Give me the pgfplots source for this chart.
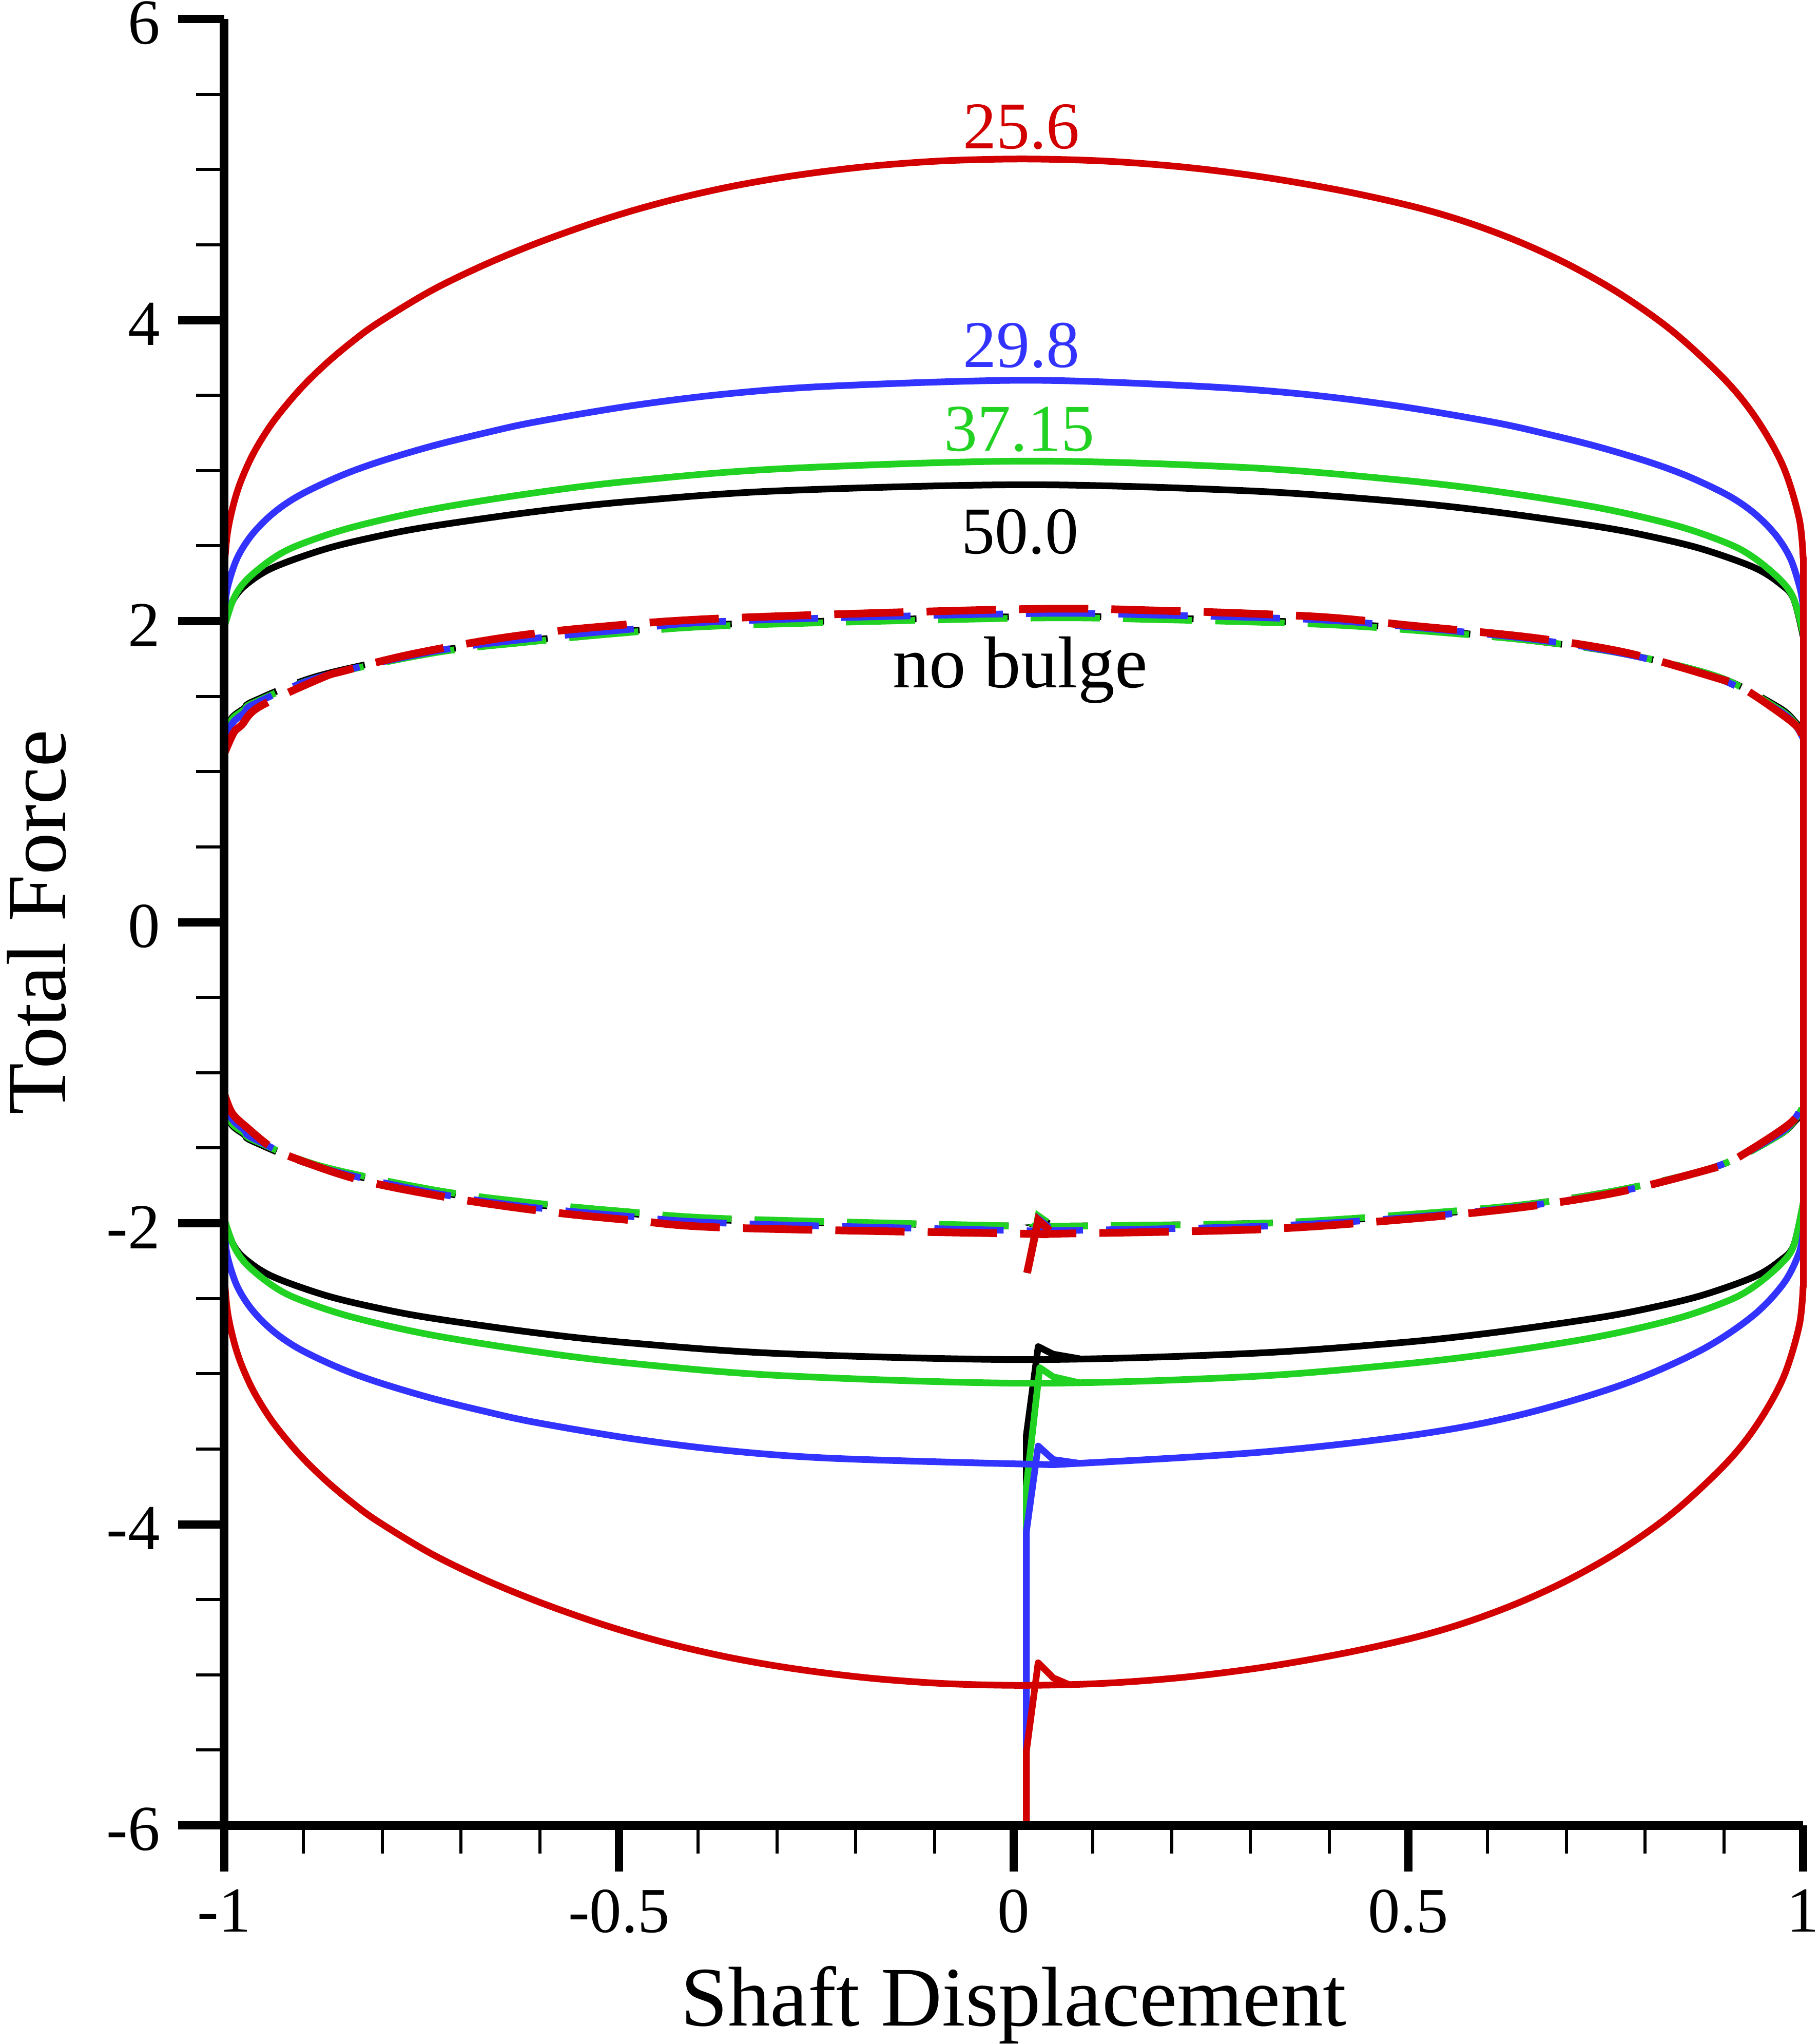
\documentclass[border=0pt]{standalone}
\usepackage{fontspec}
\setmainfont{Liberation Serif}
\usepackage{pgfplots}
\pgfplotsset{compat=1.18}
\definecolor{cred}{RGB}{210,0,0}
\definecolor{cblue}{RGB}{51,51,255}
\definecolor{cgreen}{RGB}{34,210,34}
\begin{document}
\begin{tikzpicture}
\pgfplotsset{
 every axis x label/.style={at={(axis description cs:0.5,0)}, yshift=-39pt, anchor=base, font=\fontsize{16.5}{20}\selectfont},
 every axis y label/.style={at={(axis description cs:0,0.5)}, xshift=-30.9pt, rotate=90, anchor=base, font=\fontsize{16.4}{20}\selectfont},
 sol/.style={line width=1.3pt, line join=round, line cap=round},
 solsm/.style={sol, smooth, tension=0.55},
 das/.style={line width=1.3pt, dash pattern=on 13.5pt off 4.5pt},
 dassm/.style={das, smooth, tension=0.55},
}
\begin{axis}[
 scale only axis, width=307.6pt, height=351.9pt,
 xmin=-1,xmax=1,ymin=-6,ymax=6,
 axis x line*=bottom, axis y line*=left,
 axis on top, clip=false,
 axis line style={line width=1.7pt, black},
 tick align=outside,
 major tick length=9pt, minor tick length=5.5pt,
 every major tick/.append style={line width=1.6pt, black},
 every minor tick/.append style={line width=0.6pt, black},
 xtick={-1,-0.5,0,0.5,1}, xticklabels={-1,-0.5,0,0.5,1},
 ytick={-6,-4,-2,0,2,4,6}, yticklabels={-6,-4,-2,0,2,4,6},
 minor x tick num=4, minor y tick num=3,
 tick label style={font=\fontsize{12.5}{15}\selectfont, black},
 yticklabel style={yshift=-0.8pt},
 xlabel={Shaft Displacement}, ylabel={Total Force},
]
% ================= dashed: no bulge =================
% black
\addplot[dassm, black] coordinates {(-1,1.26) (-0.99,1.36) (-0.975,1.42) (-0.962,1.47) (-0.878,1.64) (-0.733,1.80) (-0.617,1.87) (-0.497,1.93) (-0.361,1.98) (0.016,2.03) (0.183,2.02) (0.382,1.99) (0.504,1.95) (0.657,1.87) (0.776,1.78) (0.892,1.63) (0.968,1.43) (0.99,1.33) (1,1.26)};
\addplot[dassm, black] coordinates {(-1,-1.25) (-0.99,-1.35) (-0.975,-1.41) (-0.962,-1.46) (-0.878,-1.63) (-0.733,-1.79) (-0.617,-1.87) (-0.497,-1.93) (-0.361,-1.98) (0.016,-2.02) (0.05,-2.02) (0.315,-2.00) (0.504,-1.95) (0.657,-1.87) (0.776,-1.77) (0.892,-1.62) (0.968,-1.42) (0.99,-1.32) (1,-1.26)};
\addplot[das, black] coordinates {(1,-1.26) (1,1.26)};
\addplot[das, black] coordinates {(0.017,-2.33) (0.031,-1.96) (0.05,-2.02)};
% green
\addplot[dassm, cgreen] coordinates {(-1,1.24) (-0.99,1.35) (-0.975,1.41) (-0.962,1.46) (-0.878,1.63) (-0.733,1.79) (-0.617,1.86) (-0.497,1.92) (-0.361,1.97) (0.016,2.02) (0.183,2.01) (0.382,1.98) (0.504,1.94) (0.657,1.87) (0.776,1.78) (0.892,1.63) (0.968,1.42) (0.99,1.32) (1,1.24)};
\addplot[dassm, cgreen] coordinates {(-1,-1.24) (-0.99,-1.34) (-0.975,-1.40) (-0.962,-1.45) (-0.878,-1.62) (-0.733,-1.78) (-0.617,-1.86) (-0.497,-1.92) (-0.361,-1.97) (0.016,-2.02) (0.05,-2.02) (0.315,-2.00) (0.504,-1.94) (0.657,-1.87) (0.776,-1.77) (0.892,-1.62) (0.968,-1.42) (0.99,-1.31) (1,-1.22)};
\addplot[das, cgreen] coordinates {(0.017,-2.33) (0.031,-1.95) (0.05,-2.02)};
% blue
\addplot[dassm, cblue] coordinates {(-1,1.20) (-0.99,1.32) (-0.975,1.39) (-0.962,1.45) (-0.878,1.63) (-0.733,1.80) (-0.617,1.88) (-0.497,1.94) (-0.361,2.00) (0.016,2.05) (0.183,2.04) (0.382,2.01) (0.504,1.96) (0.657,1.88) (0.776,1.78) (0.892,1.62) (0.968,1.41) (0.99,1.31) (1,1.22)};
\addplot[dassm, cblue] coordinates {(-1,-1.20) (-0.99,-1.31) (-0.975,-1.38) (-0.962,-1.44) (-0.878,-1.63) (-0.733,-1.80) (-0.617,-1.89) (-0.497,-1.95) (-0.361,-2.00) (0.016,-2.05) (0.05,-2.05) (0.315,-2.02) (0.504,-1.96) (0.657,-1.88) (0.776,-1.78) (0.892,-1.62) (0.968,-1.41) (0.99,-1.30) (1,-1.20)};
\addplot[das, cblue] coordinates {(0.017,-2.33) (0.031,-1.97) (0.05,-2.05)};
% red
\addplot[dassm, cred, line width=1.5pt] coordinates {(-1,1.12) (-0.988,1.26) (-0.978,1.31) (-0.956,1.43) (-0.878,1.62) (-0.848,1.67) (-0.763,1.78) (-0.646,1.89) (-0.529,1.96) (-0.361,2.02) (0.016,2.08) (0.183,2.07) (0.382,2.03) (0.504,1.97) (0.657,1.89) (0.776,1.79) (0.892,1.62) (0.922,1.56) (0.968,1.40) (0.994,1.29) (1,1.20)};
\addplot[dassm, cred, line width=1.5pt] coordinates {(-1,-1.14) (-0.99,-1.27) (-0.97,-1.37) (-0.942,-1.49) (-0.915,-1.56) (-0.830,-1.71) (-0.715,-1.83) (-0.596,-1.92) (-0.484,-1.98) (-0.361,-2.03) (0.016,-2.07) (0.05,-2.07) (0.315,-2.04) (0.504,-1.97) (0.650,-1.89) (0.769,-1.79) (0.882,-1.64) (0.912,-1.58) (0.985,-1.33) (1,-1.18)};
\addplot[das, cred, line width=1.5pt] coordinates {(0.017,-2.33) (0.031,-1.98) (0.05,-2.07)};
% ================= solid: 50.0 (black) =================
\addplot[solsm, black] coordinates {(-1,1.99) (-0.988,2.148) (-0.971,2.248) (-0.938,2.356) (-0.872,2.479) (-0.806,2.563) (-0.739,2.629) (-0.607,2.727) (-0.484,2.796) (-0.295,2.866) (0.016,2.906) (0.295,2.866) (0.484,2.796) (0.607,2.727) (0.739,2.629) (0.806,2.563) (0.872,2.479) (0.938,2.356) (0.971,2.248) (0.988,2.148) (1,1.90)};
\addplot[solsm, black] coordinates {(-1,-1.98) (-0.988,-2.148) (-0.971,-2.248) (-0.938,-2.356) (-0.872,-2.479) (-0.806,-2.563) (-0.739,-2.629) (-0.607,-2.727) (-0.484,-2.796) (-0.295,-2.866) (0.016,-2.906) (0.295,-2.866) (0.484,-2.796) (0.607,-2.727) (0.739,-2.629) (0.806,-2.563) (0.872,-2.479) (0.938,-2.356) (0.971,-2.248) (0.988,-2.148) (1,-1.87)};
\addplot[sol, black] coordinates {(1,-1.87) (1,1.90)};
\addplot[sol, black] coordinates {(-1,-1.98) (-1,1.99)};
\addplot[sol, black] coordinates {(0.016,-6) (0.016,-3.41) (0.031,-2.82) (0.05,-2.87) (0.083,-2.90)};
% ================= solid: 37.15 (green) =================
\addplot[solsm, cgreen] coordinates {(-1,1.96) (-0.988,2.151) (-0.971,2.278) (-0.938,2.418) (-0.905,2.507) (-0.839,2.622) (-0.739,2.741) (-0.607,2.852) (-0.484,2.931) (-0.295,3.012) (0.016,3.063) (0.295,3.02) (0.484,2.94) (0.607,2.865) (0.739,2.755) (0.839,2.635) (0.905,2.515) (0.938,2.42) (0.971,2.275) (0.988,2.15) (1,1.92)};
\addplot[solsm, cgreen] coordinates {(-1,-1.97) (-0.988,-2.151) (-0.971,-2.278) (-0.938,-2.418) (-0.905,-2.507) (-0.839,-2.622) (-0.739,-2.741) (-0.607,-2.852) (-0.484,-2.931) (-0.295,-3.012) (0.016,-3.063) (0.295,-3.02) (0.484,-2.94) (0.607,-2.865) (0.739,-2.755) (0.839,-2.635) (0.905,-2.515) (0.938,-2.42) (0.971,-2.275) (0.988,-2.15) (1,-1.87)};
\addplot[sol, cgreen] coordinates {(1,-1.87) (1,1.92)};
\addplot[sol, cgreen] coordinates {(-1,-1.97) (-1,1.96)};
\addplot[sol, cgreen] coordinates {(0.016,-6) (0.016,-3.75) (0.033,-2.96) (0.05,-3.02) (0.083,-3.06)};
% ================= solid: 29.8 (blue) =================
\addplot[solsm, cblue] coordinates {(-1,2.05) (-0.996,2.22) (-0.984,2.415) (-0.965,2.574) (-0.938,2.717) (-0.905,2.835) (-0.855,2.96) (-0.806,3.055) (-0.739,3.16) (-0.673,3.246) (-0.607,3.322) (-0.484,3.431) (-0.361,3.511) (-0.228,3.562) (0.016,3.60) (0.228,3.562) (0.361,3.511) (0.484,3.431) (0.607,3.322) (0.673,3.246) (0.739,3.16) (0.806,3.055) (0.855,2.96) (0.905,2.835) (0.938,2.717) (0.965,2.574) (0.984,2.415) (0.996,2.22) (1,2.10)};
\addplot[solsm, cblue] coordinates {(-1,-2.05) (-0.996,-2.22) (-0.984,-2.415) (-0.965,-2.574) (-0.938,-2.717) (-0.905,-2.835) (-0.855,-2.96) (-0.806,-3.055) (-0.739,-3.16) (-0.673,-3.246) (-0.607,-3.322) (-0.484,-3.431) (-0.361,-3.511) (-0.228,-3.562) (0.016,-3.60) (0.083,-3.595) (0.315,-3.520) (0.504,-3.409) (0.637,-3.279) (0.769,-3.076) (0.869,-2.848) (0.935,-2.621) (0.975,-2.402) (0.995,-2.196) (1,-2.054)};
\addplot[sol, cblue] coordinates {(1,-2.054) (1,2.10)};
\addplot[sol, cblue] coordinates {(-1,-2.05) (-1,2.05)};
\addplot[sol, cblue] coordinates {(0.016,-6) (0.016,-4.05) (0.031,-3.48) (0.05,-3.57) (0.083,-3.595)};
% ================= solid: 25.6 (red) =================
\addplot[solsm, cred] coordinates {(-1,2.35) (-0.996,2.585) (-0.988,2.782) (-0.978,2.943) (-0.962,3.125) (-0.938,3.325) (-0.905,3.535) (-0.872,3.706) (-0.839,3.852) (-0.806,3.979) (-0.739,4.192) (-0.673,4.361) (-0.607,4.505) (-0.540,4.632) (-0.484,4.725) (-0.427,4.806) (-0.361,4.884) (-0.295,4.946) (-0.228,4.995) (-0.161,5.032) (-0.08,5.060) (0.016,5.070) (0.116,5.056) (0.216,5.016) (0.316,4.950) (0.416,4.859) (0.504,4.757) (0.570,4.657) (0.637,4.527) (0.703,4.368) (0.769,4.171) (0.836,3.92) (0.902,3.598) (0.942,3.335) (0.975,3.025) (0.995,2.682) (1,2.42)};
\addplot[solsm, cred] coordinates {(-1,-2.35) (-0.996,-2.585) (-0.988,-2.782) (-0.978,-2.943) (-0.962,-3.125) (-0.938,-3.325) (-0.905,-3.535) (-0.872,-3.706) (-0.839,-3.852) (-0.806,-3.979) (-0.739,-4.192) (-0.673,-4.361) (-0.607,-4.505) (-0.540,-4.632) (-0.484,-4.725) (-0.427,-4.806) (-0.361,-4.884) (-0.295,-4.946) (-0.228,-4.995) (-0.161,-5.032) (-0.08,-5.060) (0.016,-5.070) (0.116,-5.056) (0.216,-5.016) (0.316,-4.950) (0.416,-4.859) (0.504,-4.757) (0.570,-4.657) (0.637,-4.527) (0.703,-4.368) (0.769,-4.171) (0.836,-3.92) (0.902,-3.598) (0.942,-3.335) (0.975,-3.025) (0.995,-2.682) (1,-2.42)};
\addplot[sol, cred] coordinates {(1,-2.42) (1,2.42)};
\addplot[sol, cred] coordinates {(-1,-2.35) (-1,2.35)};
\addplot[sol, cred] coordinates {(0.016,-6) (0.016,-5.51) (0.031,-4.92) (0.05,-5.02) (0.07,-5.065)};
% ================= labels =================
\node[cred, anchor=base, font=\fontsize{13}{15}\selectfont] at (axis cs:0.0097,5.14) {25.6};
\node[cblue, anchor=base, font=\fontsize{13}{15}\selectfont] at (axis cs:0.0097,3.685) {29.8};
\node[cgreen, anchor=base, font=\fontsize{13}{15}\selectfont] at (axis cs:0.007,3.13) {37.15};
\node[black, anchor=base, font=\fontsize{13}{15}\selectfont] at (axis cs:0.008,2.447) {50.0};
\node[black, anchor=base, font=\fontsize{14.3}{17}\selectfont] at (axis cs:0.008,1.56) {no bulge};
\end{axis}
\pgfresetboundingbox
\useasboundingbox (-43.7pt,-42.6pt) rectangle (310.6pt,355.6pt);
\end{tikzpicture}
\end{document}
